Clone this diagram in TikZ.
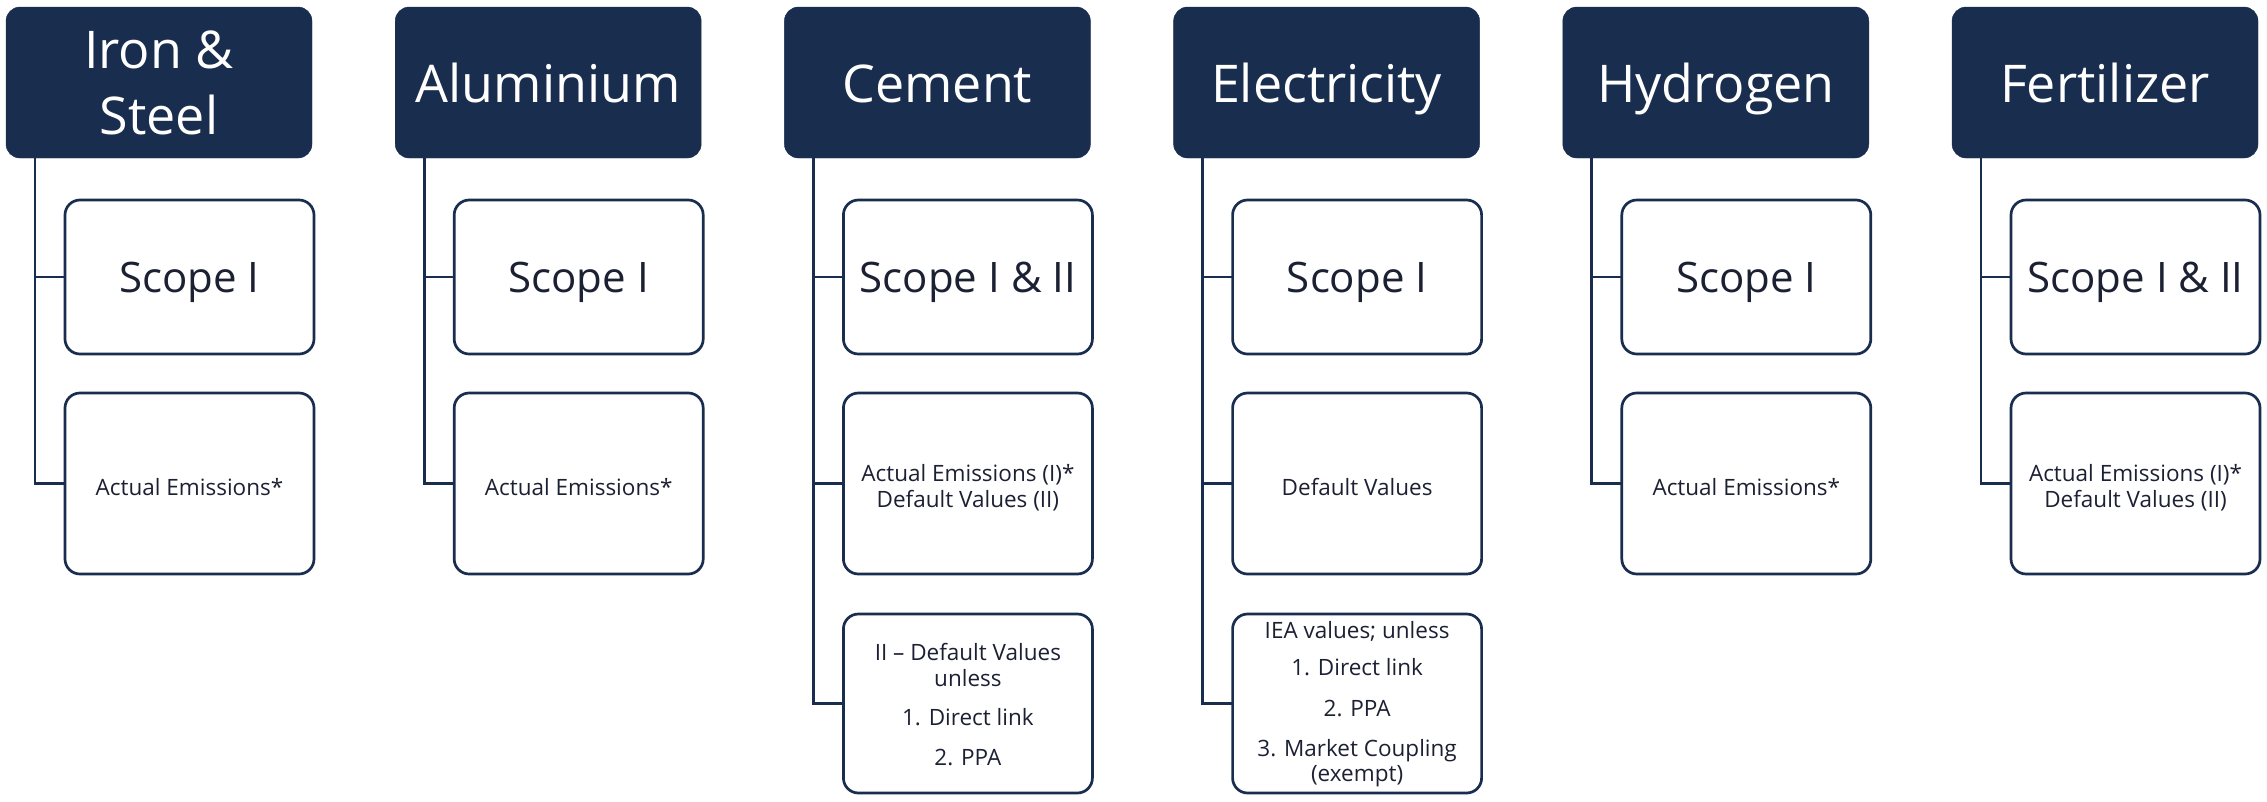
\documentclass[tikz,border=0pt]{standalone}
\usepackage{fontspec}
\setmainfont{Open Sans}
\usetikzlibrary{calc}
\definecolor{navy}{HTML}{192D4F}
\definecolor{ink}{HTML}{1C2033}
% invisible strut that makes the first line of a block taller
\newcommand{\padtop}[1]{\rule{0pt}{#1}}

\begin{document}
\begin{tikzpicture}[x=1pt,y=-1pt,
  sector/.style={fill=navy, draw=navy, rounded corners=14pt,
    minimum width=306pt, minimum height=151pt, inner sep=0pt, outer sep=0pt,
    text=white, align=center, font=\fontsize{52}{66}\selectfont},
  sectorline/.style={sector, text height=39pt, text depth=0pt},
  item/.style={draw=navy, line width=2.7pt, fill=white, rounded corners=15pt,
    minimum width=249pt, inner sep=0pt, outer sep=0pt, text=ink, align=center},
  scopebox/.style={item, minimum height=154pt, font=\fontsize{42}{50}\selectfont,
    text height=30pt, text depth=0pt},
  detail/.style={item, minimum height=181pt, font=\fontsize{22.5}{26}\selectfont},
  detailline/.style={detail, text height=23pt, text depth=0pt},
  extra/.style={item, minimum height=179pt, font=\fontsize{22.5}{25.5}\selectfont},
  link/.style={draw=navy, line width=2.7pt}
]
\fill[white] (0,0) rectangle (2267,801);
\useasboundingbox (0,0) rectangle (2267,801);

% sector headers
\node[sector]     (h1) at (159,82.5)    {Iron \&\\Steel};
\node[sectorline] (h2) at (548.2,82.5)  {Aluminium};
\node[sectorline] (h3) at (937.4,82.5)  {Cement};
\node[sectorline] (h4) at (1326.6,82.5) {Electricity};
\node[sectorline] (h5) at (1715.8,82.5) {Hydrogen};
\node[sectorline] (h6) at (2105,82.5)   {Fertilizer};

% scope boxes
\node[scopebox] (s1) at (189.5,277)  {Scope I};
\node[scopebox] (s2) at (578.7,277)  {Scope I};
\node[scopebox] (s3) at (967.9,277)  {Scope I \& II};
\node[scopebox] (s4) at (1357.1,277) {Scope I};
\node[scopebox] (s5) at (1746.3,277) {Scope I};
\node[scopebox] (s6) at (2135.5,277) {Scope I \& II};

% method boxes
\node[detailline] (d1) at (189.5,483.5)  {Actual Emissions*};
\node[detailline] (d2) at (578.7,483.5)  {Actual Emissions*};
\node[detail]     (d3) at (967.9,483.5)
  {\padtop{25pt}Actual Emissions (I)*\\Default Values (II)};
\node[detailline] (d4) at (1357.1,483.5) {Default Values};
\node[detailline] (d5) at (1746.3,483.5) {Actual Emissions*};
\node[detail]     (d6) at (2135.5,483.5)
  {\padtop{25pt}Actual Emissions (I)*\\Default Values (II)};

% exceptions
\node[extra] (e3) at (967.9,703.5)
  {\padtop{19pt}II -- Default Values\\unless\\[14pt]1. Direct link\\[14pt]2. PPA};
\node[extra] (e4) at (1357.1,703.5)
  {\padtop{19pt}IEA values; unless\\[11.5pt]1. Direct link\\[15.5pt]2. PPA\\[14.5pt]3. Market Coupling\\[-0.5pt](exempt)};

% trunks
\foreach \i in {1,...,6}
  \coordinate (t\i) at ($(h\i.south west)+(29,0)$);

\foreach \i in {1,2,5,6} {
  \draw[link] (t\i) |- (d\i.west);
  \draw[link] (t\i |- s\i.west) -- (s\i.west);
}
\foreach \i in {3,4} {
  \draw[link] (t\i) |- (e\i.west);
  \draw[link] (t\i |- s\i.west) -- (s\i.west);
  \draw[link] (t\i |- d\i.west) -- (d\i.west);
}
\end{tikzpicture}
\end{document}
